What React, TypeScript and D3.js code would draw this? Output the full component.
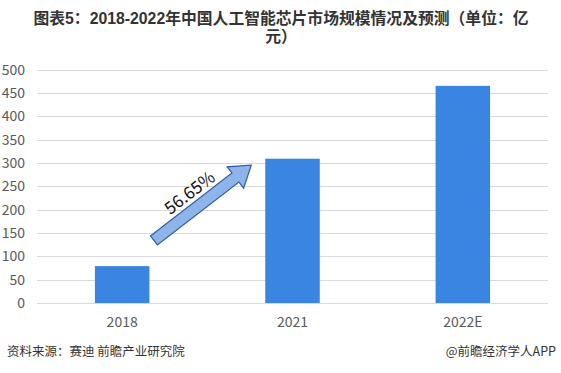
import React, { useEffect, useRef } from "react";
import * as d3 from "d3";

const years = ["2018", "2021", "2022E"];
const marketSize = [79, 309, 465];
const yTicks = [0, 50, 100, 150, 200, 250, 300, 350, 400, 450, 500];
const growthLabel = "56.65%";

const titleLine1 = "图表5：2018-2022年中国人工智能芯片市场规模情况及预测（单位：亿";
const titleLine2 = "元）";
const sourceText = "资料来源：赛迪 前瞻产业研究院";
const brandText = "@前瞻经济学人APP";

const W = 561;
const H = 373;

const App = () => {
  const svgRef = useRef<SVGSVGElement>(null);

  useEffect(() => {
    const svg = d3.select(svgRef.current);
    svg.selectAll("*").remove();

    const font = "'Noto Sans CJK SC', 'Noto Sans', sans-serif";
    const titleFont = "'Liberation Sans', 'Noto Sans CJK SC', sans-serif";
    const margin = { top: 69.5, right: 13, bottom: 70, left: 37 };

    const x = d3
      .scaleBand()
      .domain(years)
      .range([margin.left, W - margin.right])
      .paddingInner(0.68)
      .paddingOuter(0.34);

    const y = d3
      .scaleLinear()
      .domain([0, 500])
      .range([H - margin.bottom, margin.top]);

    svg.append("rect").attr("width", W).attr("height", H).attr("fill", "#fff");

    // title, two lines
    [titleLine1, titleLine2].forEach((t, i) => {
      svg
        .append("text")
        .attr("x", 281)
        .attr("y", 24 + i * 18)
        .attr("text-anchor", "middle")
        .attr("font-family", titleFont)
        .attr("font-weight", "bold")
        .attr("font-size", 15.8)
        .attr("fill", "#333")
        .text(t);
    });

    // gridlines
    svg
      .append("g")
      .selectAll("line")
      .data(yTicks)
      .enter()
      .append("line")
      .attr("x1", margin.left)
      .attr("x2", W - margin.right)
      .attr("y1", (d) => Math.round(y(d)) + 0.5)
      .attr("y2", (d) => Math.round(y(d)) + 0.5)
      .attr("stroke", "#d9d9d9")
      .attr("stroke-width", 1);

    // y labels
    svg
      .append("g")
      .selectAll("text")
      .data(yTicks)
      .enter()
      .append("text")
      .attr("x", 25)
      .attr("y", (d) => y(d) + 5)
      .attr("text-anchor", "end")
      .attr("font-family", font)
      .attr("font-size", 14)
      .attr("fill", "#595959")
      .text((d) => d);

    // bars
    svg
      .append("g")
      .selectAll("rect")
      .data(years)
      .enter()
      .append("rect")
      .attr("x", (d) => x(d)!)
      .attr("y", (_, i) => y(marketSize[i]))
      .attr("width", x.bandwidth())
      .attr("height", (_, i) => y(0) - y(marketSize[i]))
      .attr("fill", "#3a85e2");

    // x labels
    svg
      .append("g")
      .selectAll("text")
      .data(years)
      .enter()
      .append("text")
      .attr("x", (d) => x(d)! + x.bandwidth() / 2)
      .attr("y", 327)
      .attr("text-anchor", "middle")
      .attr("font-family", font)
      .attr("font-size", 14)
      .attr("fill", "#595959")
      .text((d) => d);

    // growth arrow
    const x0 = x(years[0])! + x.bandwidth() + 4.5;
    const y0 = y(134);
    const x1 = x(years[1])! - 14;
    const y1 = y(295);
    const len = Math.hypot(x1 - x0, y1 - y0);
    const ang = (Math.atan2(y1 - y0, x1 - x0) * 180) / Math.PI;
    const sw = 5.7;
    const hw = 13.5;
    const hl = 20;
    const arrowPath = `M0,${-sw} L${len - hl},${-sw} L${len - hl},${-hw} L${len},0 L${len - hl},${hw} L${len - hl},${sw} L0,${sw} Z`;
    const g = svg.append("g").attr("transform", `translate(${x0},${y0}) rotate(${ang})`);
    g.append("path")
      .attr("d", arrowPath)
      .attr("fill", "#8fb4ea")
      .attr("stroke", "#2e5c9e")
      .attr("stroke-width", 1.2);
    g.append("text")
      .attr("x", len / 2 - 4)
      .attr("y", -10)
      .attr("text-anchor", "middle")
      .attr("font-family", font)
      .attr("font-size", 17)
      .attr("fill", "#111")
      .text(growthLabel);

    // footer
    svg
      .append("text")
      .attr("x", 7)
      .attr("y", 356)
      .attr("font-family", font)
      .attr("font-size", 12.5)
      .attr("fill", "#333")
      .text(sourceText);
    svg
      .append("text")
      .attr("x", 556)
      .attr("y", 356)
      .attr("text-anchor", "end")
      .attr("font-family", font)
      .attr("font-size", 12.5)
      .attr("fill", "#333")
      .text(brandText);
  }, []);

  return (
    <svg
      ref={svgRef}
      width={W}
      height={H}
      style={{ position: "absolute", left: 0, top: 0, display: "block" }}
    />
  );
};

export default App;
